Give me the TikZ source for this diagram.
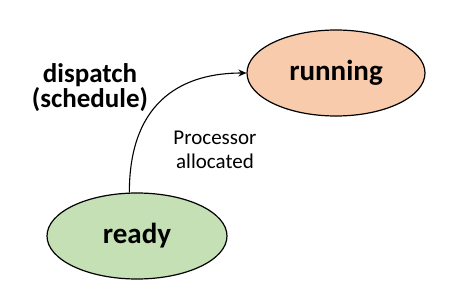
\documentclass[tikz,border=0pt]{standalone}
\usepackage{fontspec}
\setmainfont{Carlito}
\usetikzlibrary{shapes.geometric,arrows.meta}
\definecolor{runfill}{HTML}{F8CBAD}
\definecolor{readyfill}{HTML}{C5E0B4}
\tikzset{
  state/.style={ellipse, draw=black, line width=1.2pt, minimum width=178pt, minimum height=86pt, inner sep=0pt, font=\fontsize{29}{32}\selectfont\bfseries},
  lbl/.style={align=center, inner sep=0pt},
  conn/.style={-{Stealth[length=8pt,width=7pt]}, line width=1.1pt}
}
\begin{document}
\begin{tikzpicture}[x=1pt,y=-1pt]
\useasboundingbox (0,0) rectangle (456,292);
\node[state, fill=runfill] (running) at (336,73) {running};
\node[state, fill=readyfill, minimum width=180pt] (ready) at (137,236) {ready};
\node[lbl, font=\fontsize{27}{25}\selectfont\bfseries] (disp) at (90,88) {dispatch\\(schedule)};
\node[lbl, font=\fontsize{21}{24}\selectfont] (proc) at (215,150) {Processor\\allocated};
\draw[conn] (ready.100) .. controls +(0,-95) and +(-60,0) .. (running.west);
\end{tikzpicture}
\end{document}
